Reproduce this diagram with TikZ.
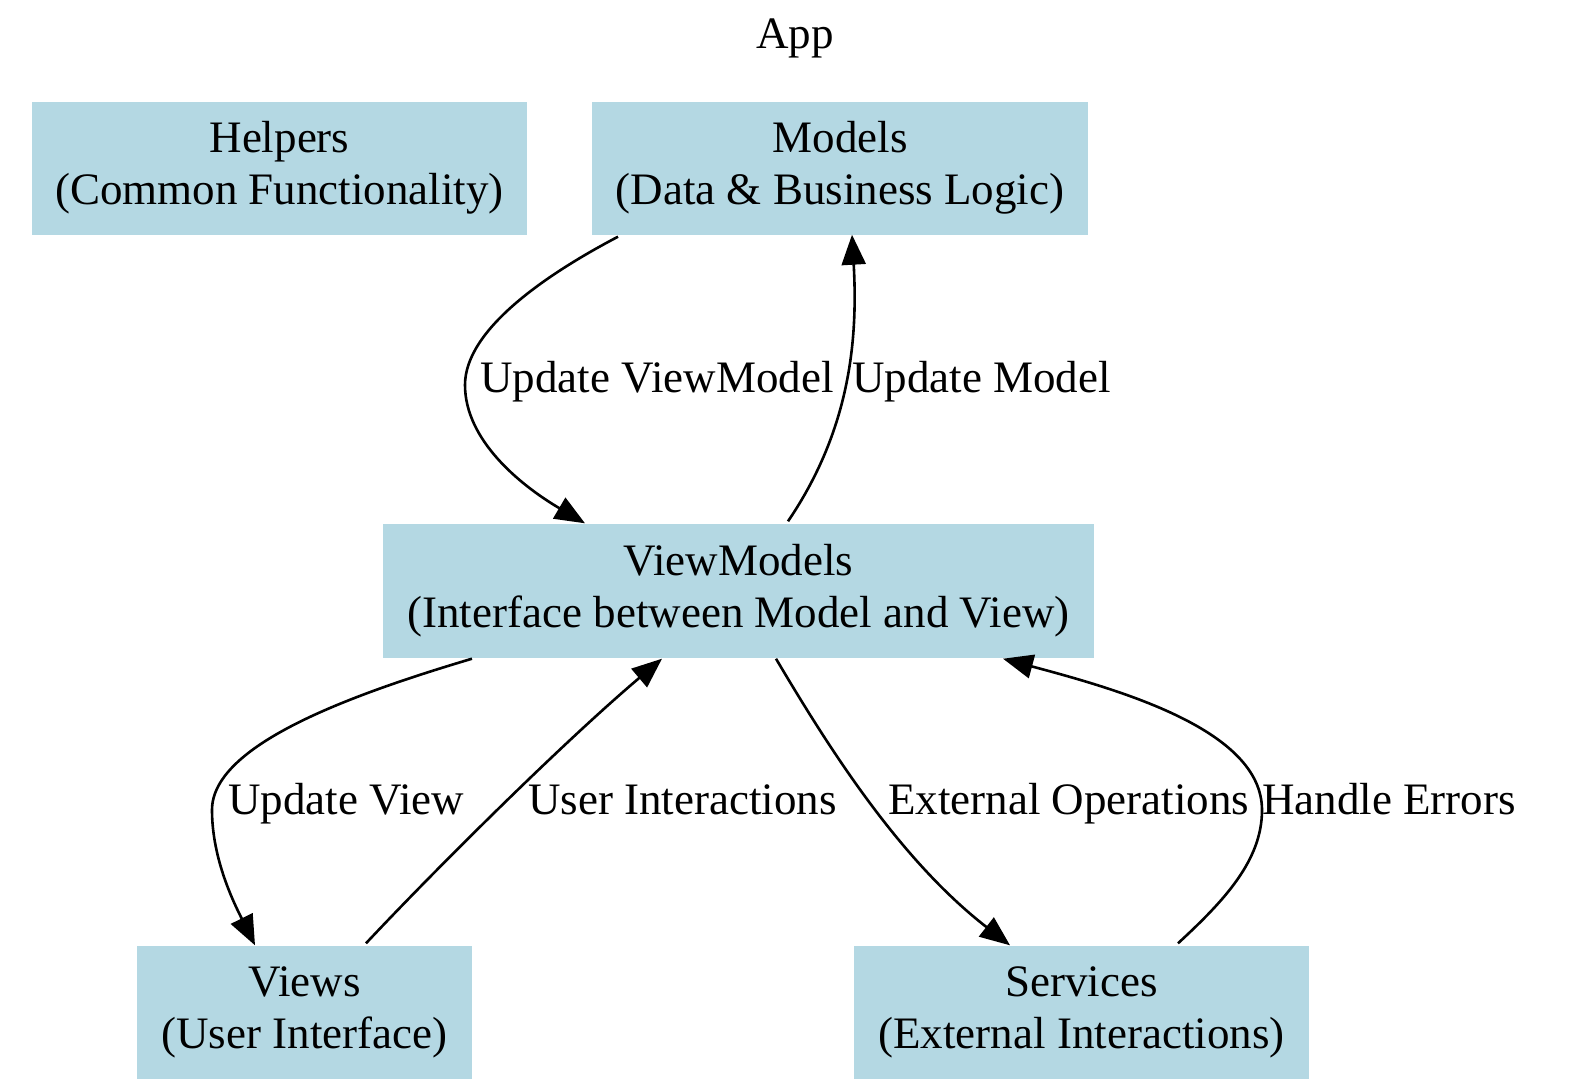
\documentclass[tikz,border=0pt]{standalone}
\usepackage{fontspec}
\setmainfont{Liberation Serif}
\usetikzlibrary{arrows.meta}
\definecolor{boxblue}{RGB}{180,216,227}
\tikzset{
  bigfont/.style={font=\fontsize{45}{52}\selectfont},
  layer/.style={bigfont, fill=boxblue, align=center, inner sep=0pt, minimum height=133pt},
  flow/.style={line width=2.6pt, -{Triangle[length=30pt,width=24pt]}},
  lbl/.style={bigfont, anchor=base west, inner sep=0pt}
}
\begin{document}
\begin{tikzpicture}[x=1pt,y=-1pt]
\useasboundingbox (0,0) rectangle (1574,1090);
\node[bigfont] (app) at (795,38) {App};
% layers
\node[layer, minimum width=495pt] (helpers) at (279.5,168) {Helpers\\(Common Functionality)};
\node[layer, minimum width=496pt] (models) at (840,168) {Models\\(Data \& Business Logic)};
\node[layer, minimum width=711pt, minimum height=134pt] (viewmodels) at (738.5,590.5) {ViewModels\\(Interface between Model and View)};
\node[layer, minimum width=335pt] (views) at (304.5,1012) {Views\\(User Interface)};
\node[layer, minimum width=455pt] (services) at (1081.5,1012) {Services\\(External Interactions)};
% connectors
\draw[flow] ([xshift=-222pt,yshift=-2pt]models.south) .. controls (545,275) and (465,330) .. (465,385)
  .. controls (465,440) and (520,485) .. ([xshift=-153.5pt]viewmodels.north);
\draw[flow] ([xshift=49.5pt,yshift=2pt]viewmodels.north) .. controls (850,430) and (858,340) .. ([xshift=12pt]models.south);
\draw[flow] ([xshift=-266.5pt,yshift=-1pt]viewmodels.south) .. controls (350,695) and (212,745) .. (212,810)
  .. controls (212,860) and (235,905) .. ([xshift=-49.5pt]views.north);
\draw[flow] ([xshift=61.5pt,yshift=2pt]views.north) .. controls (430,875) and (560,745) .. ([xshift=-76.5pt,yshift=-1pt]viewmodels.south);
\draw[flow] ([xshift=37.5pt,yshift=-1pt]viewmodels.south) .. controls (830,750) and (900,860) .. ([xshift=-71.5pt]services.north);
\draw[flow] ([xshift=96.5pt,yshift=2pt]services.north) .. controls (1225,900) and (1262,860) .. (1262,810)
  .. controls (1262,730) and (1120,690) .. ([xshift=264.5pt,yshift=-1pt]viewmodels.south);
% labels
\node[lbl] (l1) at (480,392) {Update ViewModel};
\node[lbl] (l2) at (852,392) {Update Model};
\node[lbl] (l3) at (228,814) {Update View};
\node[lbl] (l4) at (528,814) {User Interactions};
\node[lbl] (l5) at (888,814) {External Operations};
\node[lbl] (l6) at (1262,814) {Handle Errors};
\end{tikzpicture}
\end{document}
